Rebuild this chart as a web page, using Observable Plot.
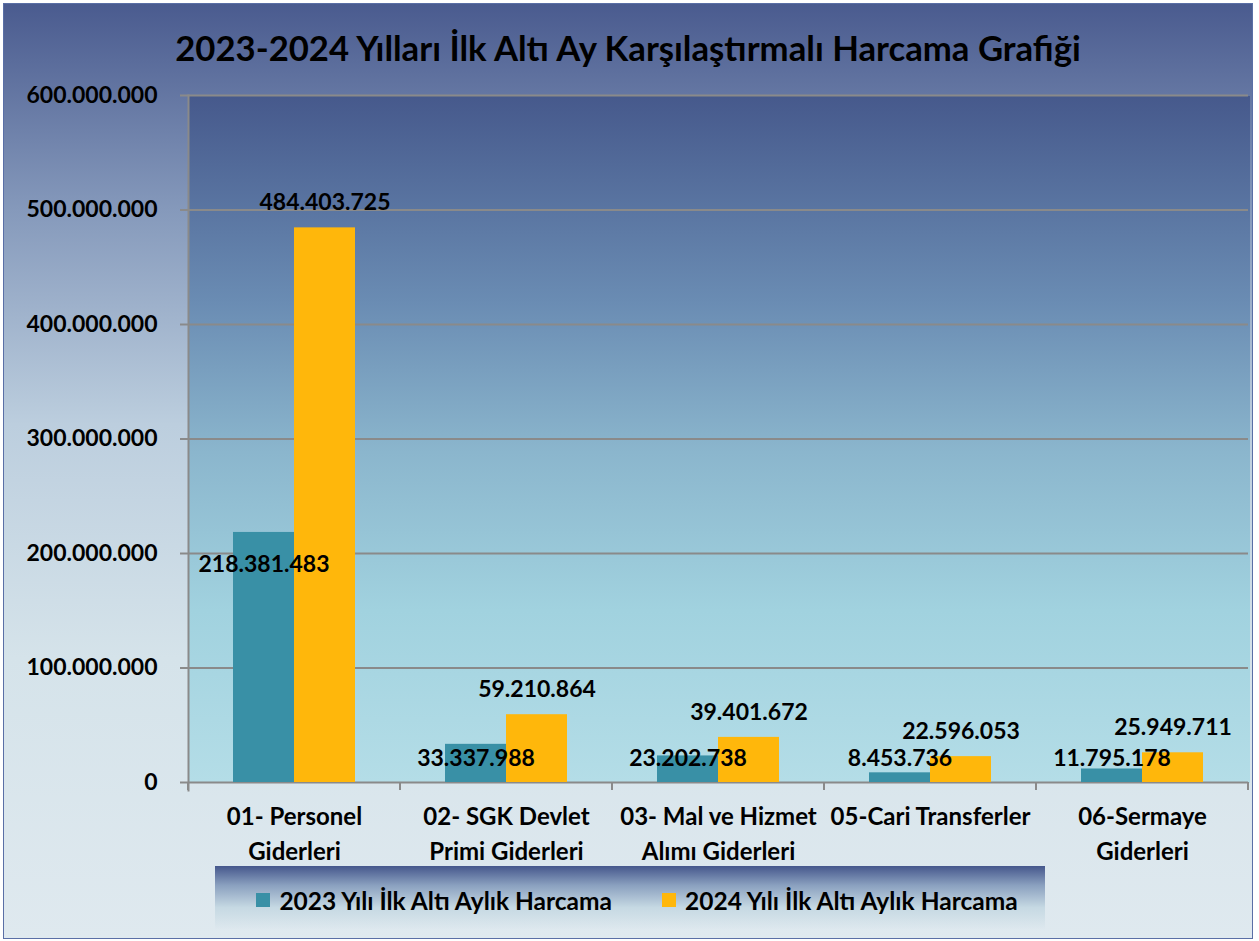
<!DOCTYPE html>
<html>
<head>
<meta charset="utf-8">
<script src="https://cdn.jsdelivr.net/npm/d3@7"></script>
<script src="https://cdn.jsdelivr.net/npm/@observablehq/plot@0.6"></script>
<style>
  html, body { margin: 0; padding: 0; background: #ffffff; }
  #chart {
    position: absolute; left: 3px; top: 3px; width: 1250px; height: 936px;
    box-sizing: border-box; border: 1px solid #5a6fa6;
    background: linear-gradient(to bottom, #4a5b8f 0%, #8599bb 22%, #bccede 45%, #d5e3ea 70%, #dfe9ef 100%);
    font-family: Lato, "Open Sans", sans-serif; font-weight: bold; color: #000;
    overflow: hidden;
  }
  #title {
    position: absolute; left: 0; top: 24px; width: 100%; text-align: center;
    font-size: 34.7px; line-height: 40px; font-weight: bold;
  }
  #plot { position: absolute; left: 0; top: 0; }
  #legend {
    position: absolute; left: 211px; top: 862px; width: 830px; height: 64px;
    background: linear-gradient(to bottom, #45578c 0%, #8aa0bf 30%, #c6d9e3 65%, rgba(220,232,238,0) 100%);
    display: flex; align-items: center; justify-content: center; gap: 50px;
    font-size: 24.5px; padding-top: 4px; padding-left: 14px; box-sizing: border-box;
  }
  .item { display: flex; align-items: center; gap: 9px; }
  .sw { width: 14px; height: 14px; display: inline-block; }
</style>
</head>
<body>
<div id="chart">
  <div id="plot"></div>
  <div id="title"></div>
  <div id="legend"></div>
</div>
<script>
const titleText = "2023-2024 Yılları İlk Altı Ay Karşılaştırmalı Harcama Grafiği";
const categories = [
  "01- Personel\nGiderleri",
  "02- SGK Devlet\nPrimi Giderleri",
  "03- Mal ve Hizmet\nAlımı Giderleri",
  "05-Cari Transferler",
  "06-Sermaye\nGiderleri"
];
const series = ["2023 Yılı İlk Altı Aylık Harcama", "2024 Yılı İlk Altı Aylık Harcama"];
const values2023 = [218381483, 33337988, 23202738, 8453736, 11795178];
const values2024 = [484403725, 59210864, 39401672, 22596053, 25949711];
const yTicks = [0, 100000000, 200000000, 300000000, 400000000, 500000000, 600000000];
const colors = ["#3990a6", "#ffb70b"];

const fmt = d3.formatLocale({decimal: ",", thousands: ".", grouping: [3], currency: ["", ""]}).format(",d");

const data = categories.flatMap((c, i) => [
  {cat: c, s: series[0], v: values2023[i]},
  {cat: c, s: series[1], v: values2024[i]}
]);
const d2023 = data.filter(d => d.s === series[0]);
const d2024 = data.filter(d => d.s === series[1]);

const gridColor = "#8a8a8a";

const boundaryTicks = (index, scales, values, dims) => {
  const g = d3.create("svg:g");
  const yb = dims.height - dims.marginBottom;
  [dims.marginLeft, dims.width - dims.marginRight].forEach(x => {
    g.append("line").attr("x1", x).attr("x2", x).attr("y1", yb).attr("y2", yb + 8)
      .attr("stroke", gridColor).attr("stroke-width", 2);
  });
  return g.node();
};

const plot = Plot.plot({
  width: 1248,
  height: 870,
  marginLeft: 182,
  marginRight: 2,
  marginTop: 91,
  marginBottom: 92,
  style: {background: "transparent", fontFamily: "Lato, 'Open Sans', sans-serif", fontWeight: "bold", color: "#000", overflow: "visible"},
  fx: {domain: categories, padding: 0, label: null},
  x: {domain: series, paddingInner: 0, paddingOuter: 0.72, axis: null},
  y: {domain: [0, 600000000], label: null},
  color: {domain: series, range: colors},
  marks: [
    Plot.frame({fill: "url(#plotGrad)", shapeRendering: "crispEdges", insetRight: -1}),
    Plot.gridY(yTicks, {stroke: gridColor, strokeOpacity: 1, strokeWidth: 2}),
    Plot.barY(data, {fx: "cat", x: "s", y: "v", fill: "s"}),
    Plot.text(d2023, {fx: "cat", x: "s", y: d => Math.max(d.v, 49000000), dy: 32, text: d => fmt(d.v), fontSize: 23, fontWeight: "bold", fill: "#000"}),
    Plot.text(d2024, {fx: "cat", x: "s", y: "v", dy: -25, text: d => fmt(d.v), fontSize: 23, fontWeight: "bold", fill: "#000"}),
    Plot.axisY(yTicks, {anchor: "left", tickSize: 8, tickPadding: 23, tickFormat: fmt, fontSize: 23, fontWeight: "bold", stroke: gridColor, strokeWidth: 2, strokeOpacity: 1, label: null}),
    Plot.axisFx({anchor: "bottom", tickSize: 0, tickPadding: 18, fontSize: 24, fontWeight: "bold", lineHeight: 1.45, label: null}),
    Plot.frame({anchor: "left", facetAnchor: "left", stroke: gridColor, strokeWidth: 2, strokeOpacity: 1, insetBottom: -8}),
    boundaryTicks
  ]
});

const ns = "http://www.w3.org/2000/svg";
const defs = document.createElementNS(ns, "defs");
defs.innerHTML = `<linearGradient id="plotGrad" x1="0" y1="0" x2="0" y2="1">
  <stop offset="0" stop-color="#46598c"/>
  <stop offset="0.3" stop-color="#6a8cb3"/>
  <stop offset="0.52" stop-color="#8bb6cd"/>
  <stop offset="0.75" stop-color="#a1d2df"/>
  <stop offset="1" stop-color="#b4dde7"/>
</linearGradient>`;
plot.insertBefore(defs, plot.firstChild);

document.getElementById("plot").appendChild(plot);
document.getElementById("title").textContent = titleText;

const legend = document.getElementById("legend");
series.forEach((s, i) => {
  const item = document.createElement("div");
  item.className = "item";
  const sw = document.createElement("span");
  sw.className = "sw";
  sw.style.background = colors[i];
  const t = document.createElement("span");
  t.textContent = s;
  item.appendChild(sw);
  item.appendChild(t);
  legend.appendChild(item);
});
</script>
</body>
</html>
